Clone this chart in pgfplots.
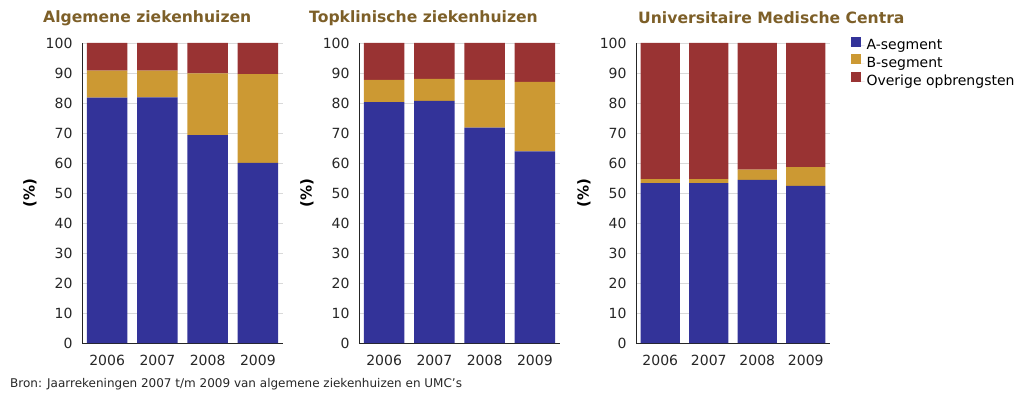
\documentclass[border=0pt]{standalone}
\usepackage{pgfplots}
\pgfplotsset{compat=1.18}
\usepackage{fontspec}
\setmainfont{DejaVu Sans}
\definecolor{cA}{RGB}{51,51,153}
\definecolor{cB}{RGB}{204,153,51}
\definecolor{cO}{RGB}{153,51,51}
\definecolor{ttl}{RGB}{125,95,40}
\pgfplotsset{
 mybar/.style={
  scale only axis, height=300pt, anchor=south west,
  ybar stacked, bar width=0.81,
  ymin=0, ymax=100, ytick={0,10,...,100},
  xmin=-0.5, xmax=3.5, xtick={0,1,2,3}, xticklabels={2006,2007,2008,2009},
  axis x line*=bottom, axis y line*=left,
  axis line style={-, black!85, line width=1pt},
  ymajorgrids, grid style={black!15, line width=0.8pt},
  major tick length=0pt,
  tick label style={font=\fontsize{14}{16}\selectfont, color=black!85},
  xticklabel style={yshift=-9pt},
  yticklabel style={xshift=-6pt},
  /pgf/number format/assume math mode=true,
  ylabel={(\%)},
  every axis y label/.style={at={(axis description cs:0,0.5)}, xshift=-52pt, rotate=90, anchor=center, font=\bfseries\fontsize{15}{17}\selectfont},
  every axis plot/.append style={draw=none},
 }
}
\begin{document}
\begin{tikzpicture}
\path[use as bounding box] (0pt,0pt) rectangle (1024pt,402pt);
\begin{axis}[mybar, width=201pt, at={(82pt,59pt)}]
\addplot[fill=cA] coordinates {(0,81.8) (1,81.9) (2,69.3) (3,60.0)};
\addplot[fill=cB] coordinates {(0,9.0) (1,8.9) (2,20.6) (3,29.6)};
\addplot[fill=cO] coordinates {(0,9.2) (1,9.2) (2,10.1) (3,10.4)};
\end{axis}
\begin{axis}[mybar, width=201pt, at={(359pt,59pt)}]
\addplot[fill=cA] coordinates {(0,80.3) (1,80.7) (2,71.8) (3,63.9)};
\addplot[fill=cB] coordinates {(0,7.4) (1,7.3) (2,15.9) (3,23.1)};
\addplot[fill=cO] coordinates {(0,12.3) (1,12.0) (2,12.3) (3,13.0)};
\end{axis}
\begin{axis}[mybar, width=194pt, at={(636pt,59pt)},
  legend style={at={(axis description cs:1.105,1.022)}, anchor=north west, draw=none, fill=none, inner sep=0pt, row sep=1pt,
    font=\fontsize{14}{16}\selectfont, cells={anchor=west, text height=10pt, text depth=3pt}},
  legend image code/.code={\fill[#1] (0pt,-1pt) rectangle (10pt,9pt); \path (0pt,0pt) -- (14pt,0pt);}]
\addplot[fill=cA] coordinates {(0,53.3) (1,53.3) (2,54.4) (3,52.4)};
\addplot[fill=cB] coordinates {(0,1.3) (1,1.3) (2,3.4) (3,6.2)};
\addplot[fill=cO] coordinates {(0,45.4) (1,45.4) (2,42.2) (3,41.4)};
\legend{A-segment, B-segment, Overige opbrengsten}
\end{axis}
\node[anchor=west, inner sep=0pt, font=\bfseries\fontsize{15.6}{18}\selectfont, color=ttl] at (43pt,384pt) {Algemene ziekenhuizen};
\node[anchor=west, inner sep=0pt, font=\bfseries\fontsize{15.6}{18}\selectfont, color=ttl] at (309pt,384pt) {Topklinische ziekenhuizen};
\node[anchor=west, inner sep=0pt, font=\bfseries\fontsize{15.6}{18}\selectfont, color=ttl] at (638pt,384pt) {Universitaire Medische Centra};
\node[anchor=west, inner sep=0pt, font=\fontsize{12}{14}\selectfont, color=black!85] at (10pt,18pt) {Bron: Jaarrekeningen 2007 t/m 2009 van algemene ziekenhuizen en UMC's};
\end{tikzpicture}
\end{document}
